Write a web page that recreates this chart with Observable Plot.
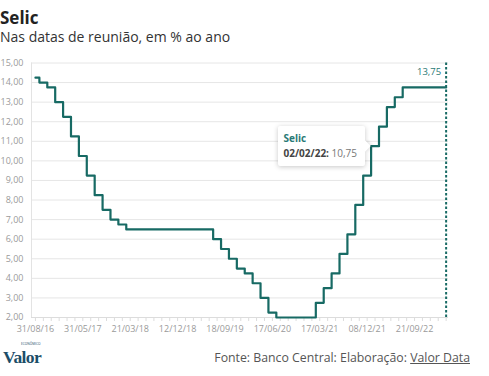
<!DOCTYPE html>
<html>
<head>
<meta charset="utf-8">
<script src="https://cdn.jsdelivr.net/npm/d3@7"></script>
<script src="https://cdn.jsdelivr.net/npm/@observablehq/plot@0.6"></script>
<style>
  html, body { margin: 0; padding: 0; background: #fff; }
  body { width: 489px; height: 376px; position: relative; overflow: hidden; font-family: "Open Sans", sans-serif; }
  #title { position: absolute; left: 0; top: 8px; font-size: 17px; line-height: 20px; font-weight: 700; color: #222; }
  #subtitle { position: absolute; left: 0; top: 28px; font-size: 14px; line-height: 18px; color: #333; }
  #chart { position: absolute; left: 0; top: 50px; }
  #tip { position: absolute; background: #fff; box-shadow: 0 1px 5px rgba(0,0,0,0.22); border-radius: 2px; padding: 5px 8px 5px 6px; font-size: 10px; line-height: 15px; white-space: nowrap; }
  #tip .s { color: #2a7a76; font-weight: 700; }
  #tip .d { color: #444; font-weight: 700; }
  #tip .v { color: #777; }
  #tip:after { content: ""; position: absolute; right: -4px; top: 50%; margin-top: -4px; width: 8px; height: 8px; background: #fff; transform: rotate(45deg); box-shadow: 2px -2px 3px rgba(0,0,0,0.08); }
  #logo { position: absolute; left: 3px; top: 351px; line-height: 13px; font-family: "Liberation Serif", serif; font-weight: 700; font-size: 17.5px; color: #1c4d68; letter-spacing: -0.6px; }
  #logo-small { position: absolute; left: 21px; top: 342px; line-height: 4px; font-size: 3.2px; font-family: "Open Sans", sans-serif; color: #1c4d68; }
  #source { position: absolute; right: 19px; top: 349px; font-size: 12.3px; color: #555; }
  #source u { text-decoration: underline; }
</style>
</head>
<body>
<div id="title">Selic</div>
<div id="subtitle">Nas datas de reunião, em % ao ano</div>
<div id="chart"></div>
<div id="logo-small">ECONÔMICO</div>
<div id="logo">Valor</div>
<div id="source">Fonte: Banco Central: Elaboração: <u>Valor Data</u></div>
<script>
const dates = ["31/08/16","19/10/16","30/11/16","11/01/17","22/02/17","12/04/17","31/05/17","26/07/17","06/09/17","25/10/17","06/12/17","07/02/18","21/03/18","16/05/18","20/06/18","01/08/18","19/09/18","31/10/18","12/12/18","06/02/19","20/03/19","08/05/19","19/06/19","31/07/19","18/09/19","30/10/19","11/12/19","05/02/20","18/03/20","06/05/20","17/06/20","05/08/20","16/09/20","28/10/20","09/12/20","20/01/21","17/03/21","05/05/21","16/06/21","04/08/21","22/09/21","27/10/21","08/12/21","02/02/22","16/03/22","04/05/22","15/06/22","03/08/22","21/09/22","26/10/22","07/12/22","01/02/23","22/03/23"];
const selic = [14.25,14.00,13.75,13.00,12.25,11.25,10.25,9.25,8.25,7.50,7.00,6.75,6.50,6.50,6.50,6.50,6.50,6.50,6.50,6.50,6.50,6.50,6.50,6.00,5.50,5.00,4.50,4.25,3.75,3.00,2.25,2.00,2.00,2.00,2.00,2.00,2.75,3.50,4.25,5.25,6.25,7.75,9.25,10.75,11.75,12.75,13.25,13.75,13.75,13.75,13.75,13.75,13.75];
const yTicks = [2,3,4,5,6,7,8,9,10,11,12,13,14,15];
const tipIndex = 43;

const rows = dates.map((d, i) => ({i, d, v: selic[i]}));
const last = rows[rows.length - 1];
const teal = "#176a64";
const fmt = v => v.toFixed(2).replace(".", ",");

const chart = Plot.plot({
  width: 489,
  height: 290,
  marginLeft: 31,
  marginRight: 41,
  marginTop: 12.5,
  marginBottom: 23,
  style: {fontFamily: "Open Sans", fontSize: "9px", color: "#9a9a9a", background: "transparent"},
  x: {domain: [-0.5, 52.3], label: null},
  y: {domain: [2, 15], label: null},
  marks: [
    Plot.gridY(yTicks, {stroke: "#e6e6e6", strokeOpacity: 1}),
    Plot.ruleX([-0.5], {stroke: "#e3e3e3"}),
    Plot.axisY(yTicks, {tickSize: 0, tickPadding: 8, tickFormat: fmt, fill: "#9a9a9a", label: null}),
    Plot.axisX(d3.range(dates.length), {tickSize: 4, tickPadding: 4.5, stroke: "#dcdcdc", fill: "#9a9a9a", label: null, tickFormat: i => i % 6 === 0 ? dates[i] : ""}),
    Plot.ruleY([2], {stroke: "#dcdcdc"}),
    Plot.ruleX([last], {x: "i", y1: 2, y2: 15, stroke: teal, strokeWidth: 2, strokeDasharray: "2.5,2"}),
    Plot.line(rows, {x: "i", y: "v", curve: "step", stroke: teal, strokeWidth: 2.2}),
    Plot.text([last], {x: "i", y: "v", text: d => fmt(d.v), dx: -5, dy: -16, textAnchor: "end", fill: "#2a7a76", fontSize: 9.5})
  ]
});
document.getElementById("chart").appendChild(chart);

// tooltip anchored on the data point via the plot scales
const px = chart.scale("x").apply(tipIndex);
const py = chart.scale("y").apply(selic[tipIndex]);
const tip = document.createElement("div");
tip.id = "tip";
tip.innerHTML = `<div class="s">Selic</div><div><span class="d">${dates[tipIndex]}:</span> <span class="v">${fmt(selic[tipIndex])}</span></div>`;
document.body.appendChild(tip);
const w = tip.offsetWidth, h = tip.offsetHeight;
tip.style.left = (px - 9 - w) + "px";
tip.style.top = (50 + py - h / 2) + "px";
</script>
</body>
</html>
